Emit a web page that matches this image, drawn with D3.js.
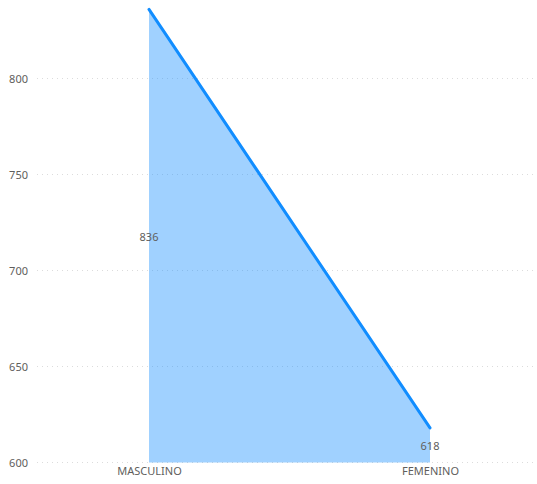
<!DOCTYPE html>
<html><head><meta charset="utf-8">
<script src="https://cdn.jsdelivr.net/npm/d3@7"></script>
<style>body{margin:0;background:#fff;}text{font-family:"Segoe UI","Noto Sans",sans-serif;}</style>
</head><body>
<svg id="c" width="537" height="484"></svg>
<script>
const categories = ["MASCULINO", "FEMENINO"];
const values = [836, 618];
const yTicks = [600, 650, 700, 750, 800];

const svg = d3.select("#c");
const x = d3.scalePoint().domain(categories).range([149, 430]);
const y = d3.scaleLinear().domain([600, 800]).range([462.5, 78.5]);

// grid
svg.append("g").selectAll("line").data(yTicks).join("line")
  .attr("x1", 37).attr("x2", 537)
  .attr("y1", d => y(d)).attr("y2", d => y(d))
  .attr("stroke", "#dcdcdc").attr("stroke-width", 1)
  .attr("stroke-dasharray", "1,4");

// y labels
const yAxis = d3.axisLeft(y).tickValues(yTicks).tickSize(0).tickPadding(0);
const ya = svg.append("g").attr("transform", "translate(28,0)").call(yAxis);
ya.select(".domain").remove();
ya.selectAll("text").attr("fill", "#605E5C").style("font-size", "11px");

const data = categories.map((c, i) => ({c, v: values[i]}));

svg.append("path").datum(data)
  .attr("d", d3.area().x(d => x(d.c)).y0(y(600)).y1(d => y(d.v)))
  .attr("fill", "#118DFF").attr("fill-opacity", 0.4);

svg.append("path").datum(data)
  .attr("d", d3.line().x(d => x(d.c)).y(d => y(d.v)))
  .attr("fill", "none").attr("stroke", "#118DFF").attr("stroke-width", 3)
  .attr("stroke-linecap", "round");

// x labels
const xAxis = d3.axisBottom(x).tickSize(0).tickPadding(0);
const xa = svg.append("g").attr("transform", "translate(0,467)").call(xAxis);
xa.select(".domain").remove();
xa.selectAll("text").attr("fill", "#605E5C").style("font-size", "11px");

// data labels
svg.append("g").selectAll("text").data(data).join("text")
  .attr("x", d => x(d.c))
  .attr("y", d => (y(d.v) + y(600)) / 2 + 1)
  .attr("dy", "0.35em")
  .attr("text-anchor", "middle")
  .attr("fill", "#605E5C").style("font-size", "11px")
  .text(d => d.v);
</script>
</body></html>
